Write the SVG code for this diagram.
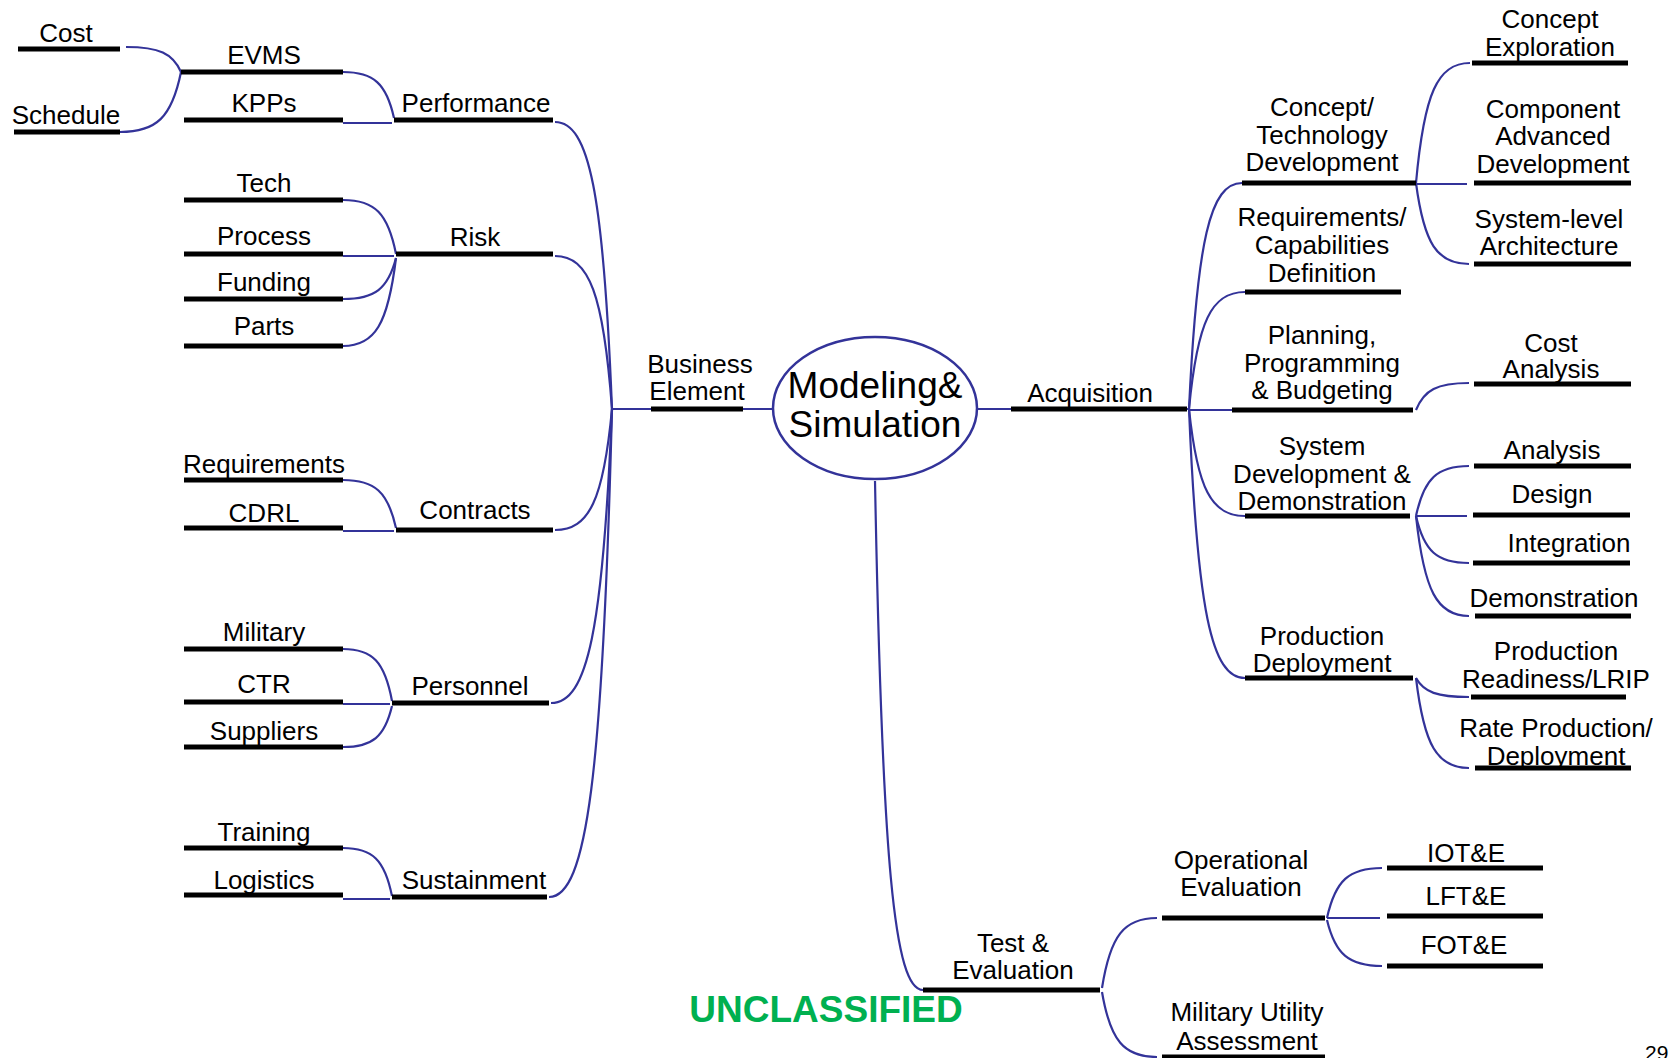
<svg xmlns="http://www.w3.org/2000/svg" width="1669" height="1058" viewBox="0 0 1669 1058">
<style>
text{font-family:"Liberation Sans",Arial,sans-serif;font-size:26px;fill:#000;text-anchor:middle}
.bar{stroke:#000;stroke-width:5;fill:none}
.c{stroke:#333399;stroke-width:2.2;fill:none}
.big{font-size:37px}
.unc{font-size:37px;font-weight:bold;fill:#00B050}
.pg{font-size:21px;text-anchor:start}
</style>
<rect width="1669" height="1058" fill="#fff"/>
<g id="connectors">
<path class="c" d="M126,47 C159,47 172.8,53.3 181,72"/>
<path class="c" d="M120,132 C156.6,132 171.9,117 181,72"/>
<path class="c" d="M343,72 C373.6,72 386.4,83.5 394,118"/>
<path class="c" d="M343,123 L392,123"/>
<path class="c" d="M343,200 C374.8,200 388,213.5 396,254"/>
<path class="c" d="M343,256 L394,256"/>
<path class="c" d="M343,299 C374.8,299 388,288.8 396,258"/>
<path class="c" d="M343,346 C374.8,346 388,324 396,258"/>
<path class="c" d="M343,480 C374.8,480 388,492 396,528"/>
<path class="c" d="M343,531 L394,531"/>
<path class="c" d="M343,649 C372.4,649 384.7,661.8 392,701"/>
<path class="c" d="M343,704 L390,704"/>
<path class="c" d="M343,747 C372.4,747 384.7,736.8 392,706"/>
<path class="c" d="M343,848 C372.4,848 384.7,859.8 392,896"/>
<path class="c" d="M343,899 L390,899"/>
<path class="c" d="M555,122 C589.2,122 603.5,193.8 612,409"/>
<path class="c" d="M555,256 C589.2,256 603.5,294.3 612,409"/>
<path class="c" d="M555,530 C589.2,530 603.5,499.8 612,409"/>
<path class="c" d="M551,703 C587.6,703 602.9,629.5 612,409"/>
<path class="c" d="M549,897 C586.8,897 602.6,775 612,409"/>
<path class="c" d="M612,409 L773,409"/>
<path class="c" d="M977,409 L1189,409"/>
<path class="c" d="M1242,183 C1210.2,183 1197,239.5 1189,409"/>
<path class="c" d="M1245,292 C1211.4,292 1197.4,321.3 1189,409"/>
<path class="c" d="M1189,410 L1245,410"/>
<path class="c" d="M1245,516 C1211.4,516 1197.4,489.3 1189,409"/>
<path class="c" d="M1245,678 C1211.4,678 1197.4,610.8 1189,409"/>
<path class="c" d="M1470,63 C1437.6,63 1424.1,93 1416,183"/>
<path class="c" d="M1416,184 L1467,184"/>
<path class="c" d="M1469,264 C1437.2,264 1424,243.8 1416,183"/>
<path class="c" d="M1469,383 C1437.2,383 1424,389.8 1416,410"/>
<path class="c" d="M1469,466 C1437.2,466 1424,478.5 1416,516"/>
<path class="c" d="M1416,516 L1467,516"/>
<path class="c" d="M1469,563 C1437.2,563 1424,551.3 1416,516"/>
<path class="c" d="M1469,616 C1437.2,616 1424,591 1416,516"/>
<path class="c" d="M1469,697 C1437.2,697 1424,692.3 1416,678"/>
<path class="c" d="M1469,768 C1437.2,768 1424,745.5 1416,678"/>
<path class="c" d="M923,990 C894.2,990 882.2,862.8 875,481"/>
<path class="c" d="M1157,918 C1124,918 1110.3,935.5 1102,988"/>
<path class="c" d="M1157,1057 C1124,1057 1110.3,1040.8 1102,992"/>
<path class="c" d="M1382,868 C1349,868 1335.3,880.5 1327,918"/>
<path class="c" d="M1327,918 L1380,918"/>
<path class="c" d="M1382,966 C1349,966 1335.3,954.5 1327,920"/>
</g>
<g id="center">
<ellipse cx="875" cy="408" rx="102" ry="71" fill="#fff" stroke="#333399" stroke-width="2.5"/>
<text class="big" x="875" y="398">Modeling&amp;</text>
<text class="big" x="875" y="437">Simulation</text>
</g>
<g id="business"><line class="bar" x1="651" y1="409" x2="743" y2="409"/><text x="700" y="373">Business</text><text x="697" y="400">Element</text></g>
<g id="performance"><line class="bar" x1="394" y1="120" x2="553" y2="120"/><text x="476" y="112">Performance</text></g>
<g id="evms"><line class="bar" x1="181" y1="72" x2="343" y2="72"/><text x="264" y="64">EVMS</text></g>
<g id="kpps"><line class="bar" x1="184" y1="120" x2="343" y2="120"/><text x="264" y="112">KPPs</text></g>
<g id="cost"><line class="bar" x1="18" y1="49" x2="120" y2="49"/><text x="66" y="42">Cost</text></g>
<g id="schedule"><line class="bar" x1="14" y1="132" x2="120" y2="132"/><text x="66" y="124">Schedule</text></g>
<g id="risk"><line class="bar" x1="396" y1="254" x2="553" y2="254"/><text x="475" y="246">Risk</text></g>
<g id="tech"><line class="bar" x1="184" y1="200" x2="343" y2="200"/><text x="264" y="192">Tech</text></g>
<g id="process"><line class="bar" x1="184" y1="254" x2="343" y2="254"/><text x="264" y="245">Process</text></g>
<g id="funding"><line class="bar" x1="184" y1="299" x2="343" y2="299"/><text x="264" y="291">Funding</text></g>
<g id="parts"><line class="bar" x1="184" y1="346" x2="343" y2="346"/><text x="264" y="335">Parts</text></g>
<g id="contracts"><line class="bar" x1="396" y1="530" x2="553" y2="530"/><text x="475" y="519">Contracts</text></g>
<g id="requirements"><line class="bar" x1="184" y1="480" x2="343" y2="480"/><text x="264" y="473">Requirements</text></g>
<g id="cdrl"><line class="bar" x1="184" y1="528" x2="343" y2="528"/><text x="264" y="522">CDRL</text></g>
<g id="personnel"><line class="bar" x1="392" y1="703" x2="549" y2="703"/><text x="470" y="695">Personnel</text></g>
<g id="military"><line class="bar" x1="184" y1="649" x2="343" y2="649"/><text x="264" y="641">Military</text></g>
<g id="ctr"><line class="bar" x1="184" y1="702" x2="343" y2="702"/><text x="264" y="693">CTR</text></g>
<g id="suppliers"><line class="bar" x1="184" y1="747" x2="343" y2="747"/><text x="264" y="740">Suppliers</text></g>
<g id="sustainment"><line class="bar" x1="392" y1="897" x2="547" y2="897"/><text x="474" y="889">Sustainment</text></g>
<g id="training"><line class="bar" x1="184" y1="848" x2="343" y2="848"/><text x="264" y="841">Training</text></g>
<g id="logistics"><line class="bar" x1="184" y1="895" x2="343" y2="895"/><text x="264" y="889">Logistics</text></g>
<g id="acquisition"><line class="bar" x1="1011" y1="409" x2="1187" y2="409"/><text x="1090" y="402">Acquisition</text></g>
<g id="ctd"><line class="bar" x1="1242" y1="183" x2="1416" y2="183"/><text x="1322" y="116">Concept/</text><text x="1322" y="143.5">Technology</text><text x="1322" y="171">Development</text></g>
<g id="rcd"><line class="bar" x1="1245" y1="292" x2="1401" y2="292"/><text x="1322" y="226">Requirements/</text><text x="1322" y="254">Capabilities</text><text x="1322" y="281.5">Definition</text></g>
<g id="ppb"><line class="bar" x1="1232" y1="410" x2="1413" y2="410"/><text x="1322" y="344">Planning,</text><text x="1322" y="372">Programming</text><text x="1322" y="399">&amp; Budgeting</text></g>
<g id="sdd"><line class="bar" x1="1245" y1="516" x2="1410" y2="516"/><text x="1322" y="455">System</text><text x="1322" y="483">Development &amp;</text><text x="1322" y="510">Demonstration</text></g>
<g id="pd"><line class="bar" x1="1245" y1="678" x2="1413" y2="678"/><text x="1322" y="645">Production</text><text x="1322" y="672">Deployment</text></g>
<g id="ce"><line class="bar" x1="1472" y1="63" x2="1628" y2="63"/><text x="1550" y="28">Concept</text><text x="1550" y="56">Exploration</text></g>
<g id="cad"><line class="bar" x1="1474" y1="183" x2="1631" y2="183"/><text x="1553" y="118">Component</text><text x="1553" y="145">Advanced</text><text x="1553" y="173">Development</text></g>
<g id="sla"><line class="bar" x1="1474" y1="264" x2="1631" y2="264"/><text x="1549" y="228">System-level</text><text x="1549" y="255">Architecture</text></g>
<g id="costanalysis"><line class="bar" x1="1474" y1="384" x2="1631" y2="384"/><text x="1551" y="352">Cost</text><text x="1551" y="378">Analysis</text></g>
<g id="analysis"><line class="bar" x1="1474" y1="466" x2="1631" y2="466"/><text x="1552" y="459">Analysis</text></g>
<g id="design"><line class="bar" x1="1473" y1="515" x2="1630" y2="515"/><text x="1552" y="503">Design</text></g>
<g id="integration"><line class="bar" x1="1473" y1="563" x2="1630" y2="563"/><text x="1569" y="552">Integration</text></g>
<g id="demonstration"><line class="bar" x1="1475" y1="616" x2="1631" y2="616"/><text x="1554" y="607">Demonstration</text></g>
<g id="prl"><line class="bar" x1="1471" y1="697" x2="1626" y2="697"/><text x="1556" y="660">Production</text><text x="1556" y="688">Readiness/LRIP</text></g>
<g id="rpd"><line class="bar" x1="1475" y1="768" x2="1631" y2="768"/><text x="1556" y="737">Rate Production/</text><text x="1556" y="765">Deployment</text></g>
<g id="te"><line class="bar" x1="923" y1="990" x2="1100" y2="990"/><text x="1013" y="952">Test &amp;</text><text x="1013" y="979">Evaluation</text></g>
<g id="oe"><line class="bar" x1="1162" y1="918" x2="1325" y2="918"/><text x="1241" y="869">Operational</text><text x="1241" y="896">Evaluation</text></g>
<g id="mua"><line class="bar" x1="1162" y1="1057" x2="1325" y2="1057"/><text x="1247" y="1021">Military Utility</text><text x="1247" y="1050">Assessment</text></g>
<g id="iote"><line class="bar" x1="1387" y1="868" x2="1543" y2="868"/><text x="1466" y="862">IOT&amp;E</text></g>
<g id="lfte"><line class="bar" x1="1387" y1="916" x2="1543" y2="916"/><text x="1466" y="905">LFT&amp;E</text></g>
<g id="fote"><line class="bar" x1="1387" y1="966" x2="1543" y2="966"/><text x="1464" y="954">FOT&amp;E</text></g>
<text class="unc" x="826" y="1022">UNCLASSIFIED</text>
<text class="pg" x="1645" y="1060">29</text>
</svg>
